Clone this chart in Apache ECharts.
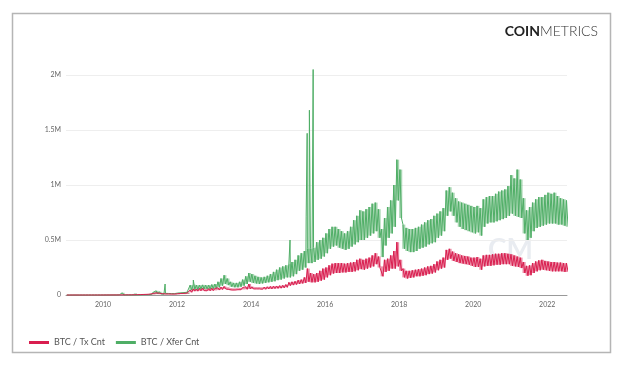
<!DOCTYPE html>
<html><head><meta charset="utf-8">
<script src="https://cdn.jsdelivr.net/npm/echarts@6/dist/echarts.min.js"></script>
<style>html,body{margin:0;padding:0;background:#fff}#c{width:624px;height:368px}</style>
</head><body><div id="c"></div><script>
// Monthly readings (thousands), starting January 2009; each month gives a low and a high value
const startYear = 2009;
const txLo = [
 0,0,0,0,0,0,0,0,0,0,0,0,
 0.2,0.2,0.2,0.3,0.3,0.3,0.4,0.5,0.5,0.6,0.8,1.0,
 1.5,2,2.5,3,5,7,6,5,5,5,5,5,
 6,8,8,10,25,35,35,38,40,38,38,40,
 42,45,50,55,50,45,45,48,48,50,52,55,
 55,55,55,52,52,55,55,58,60,62,65,70,
 85,90,95,100,105,110,120,115,115,120,130,140,
 160,180,195,200,200,205,205,210,210,215,225,235,
 230,240,250,260,280,250,170,210,220,240,240,260,
 220,160,150,155,160,170,170,175,180,190,195,205,
 225,240,250,320,330,310,300,290,285,280,275,265,
 255,255,230,260,265,265,270,275,275,280,280,280,
 265,260,255,245,200,175,180,200,215,225,230,225,
 220,215,215,215,215,210,210];
const txHi = [
 0.1,0.1,0.2,0.2,0.1,0.2,0.2,0.2,0.2,0.3,0.3,0.3,
 0.4,0.5,0.5,0.6,0.7,0.8,1.2,1.5,1.6,1.8,2.5,3.0,
 4,5,6,8,14,20,16,12,10,10,9,9,
 12,14,15,18,45,55,55,60,62,58,58,62,
 60,65,72,78,70,62,60,62,65,68,75,100,
 75,72,72,70,72,75,78,80,82,85,88,95,
 115,120,125,135,140,160,240,200,190,200,220,240,
 250,270,285,290,290,290,285,290,295,300,320,330,
 320,330,340,360,380,350,260,320,330,360,400,480,
 320,240,220,220,225,230,235,240,250,260,265,280,
 305,320,340,410,420,395,380,370,360,355,350,340,
 340,345,330,360,365,365,370,375,375,380,380,375,
 370,360,350,340,300,265,270,290,305,315,320,310,
 305,300,300,295,295,290,290];
const xferLo = [
 0,0,0,0,0,0,0,0,0,0,0,0,
 0.3,0.3,0.3,0.4,0.4,0.4,0.5,0.6,0.6,0.8,1.0,1.2,
 2,3,3,4,7,10,9,8,7,7,7,7,
 8,10,10,12,45,50,50,55,55,55,55,58,
 60,70,85,100,90,75,70,70,75,85,100,120,
 110,105,100,105,110,115,120,125,135,140,150,160,
 160,170,190,220,230,250,290,290,300,320,330,350,
 380,420,440,450,430,420,410,420,440,460,480,500,
 500,520,540,560,580,520,345,450,520,560,620,860,
 700,420,400,390,390,400,420,430,440,460,470,480,
 520,540,580,720,760,720,660,620,600,590,580,570,
 560,570,540,620,650,660,660,670,680,690,700,720,
 740,720,710,700,560,500,520,580,610,620,630,640,
 650,650,650,640,640,630,620];
const xferHi = [
 0.1,0.1,0.2,0.2,0.2,0.2,0.2,0.3,0.3,0.3,0.4,0.4,
 0.5,0.6,0.7,0.8,0.9,1.0,20,2.0,2.2,2.5,15,4.0,
 6,7,8,12,25,38,30,20,15,14,13,13,
 18,20,22,25,90,95,90,90,92,90,90,95,
 100,120,150,180,150,120,110,110,120,140,170,200,
 190,175,165,160,165,175,190,210,230,250,260,270,
 280,300,320,360,380,400,420,420,430,480,500,520,
 560,600,620,620,600,580,560,580,620,680,720,770,
 760,780,800,830,840,780,600,700,800,860,1000,1230,
 1140,640,610,600,600,610,620,640,660,680,690,720,
 740,760,790,950,980,930,880,850,840,830,820,810,
 800,810,790,870,890,900,900,920,940,950,960,990,
 1090,1060,1140,1050,880,770,800,840,870,890,890,910,
 930,920,930,900,880,870,860];
// Single-day spikes in transfer count (thousands)
const xferSpikeDates = ['2011-09-05','2012-06-10','2015-01-20','2015-06-28','2015-07-08','2015-07-30','2015-09-05'];
const xferSpikeVals = [100, 136, 500, 710, 1470, 1680, 2050];
const yearTicks = [2010, 2012, 2014, 2016, 2018, 2020, 2022];
const seriesNames = ['BTC / Tx Cnt', 'BTC / Xfer Cnt'];
const txColor = '#d91e4f', xferColor = '#4fae66';

function decYear(s){
  const d = new Date(s + 'T00:00:00Z');
  const y = d.getUTCFullYear();
  const start = Date.UTC(y,0,1), end = Date.UTC(y+1,0,1);
  return y + (d.getTime()-start)/(end-start);
}
function monthX(i, f){ return startYear + Math.floor(i/12) + ((i%12)+f)/12; }
function build(lo, hi, spD, spV){
  const pts = [];
  for (let i=0;i<lo.length;i++){
    pts.push([monthX(i,0.25), hi[i]]);
    pts.push([monthX(i,0.75), lo[i]]);
  }
  (spD||[]).forEach((d,k)=>pts.push([decYear(d), spV[k]]));
  pts.sort((a,b)=>a[0]-b[0]);
  return pts;
}
function bandData(lo, hi){ return lo.map((v,i)=>[monthX(i,0), monthX(i,1), v, hi[i]]); }
const endX = decYear('2022-07-15');

function bandSeries(id, lo, hi, color, z){
  return {name:id,type:'custom',data:bandData(lo,hi),silent:true,z:z,clip:true,
    encode:{x:[0,1],y:[2,3]},
    renderItem:function(params, api){
      const p0 = api.coord([api.value(0), api.value(3)]);
      const p1 = api.coord([api.value(1), api.value(2)]);
      return {type:'rect',shape:{x:p0[0],y:p0[1],width:p1[0]-p0[0],height:Math.max(p1[1]-p0[1],0.5)},
        style:{fill:color,opacity:0.5}};
    }};
}

const chart = echarts.init(document.getElementById('c'), null, {renderer:'canvas'});
chart.setOption({
  animation:false,
  backgroundColor:'#fff',
  textStyle:{fontFamily:'Lato'},
  grid:{left:66,right:57,top:75,bottom:73},
  graphic:[
    {type:'rect',shape:{x:12.5,y:13.5,width:598,height:339},style:{fill:'none',stroke:'#b5b5b5',lineWidth:1.5},z:0},
    {type:'text',right:26,top:24,style:{text:'{b|COIN}{l|METRICS}',rich:{
      b:{fontFamily:'Lato',fontWeight:'bold',fontSize:14,fill:'#222'},
      l:{fontFamily:'Lato',fontWeight:300,fontSize:14,fill:'#333'}}},z:5},
    {type:'text',left:488,top:236,style:{text:'CM',font:'bold 28px Lato',fill:'#e9ecf1'},z:0}
  ],
  legend:{data:seriesNames,left:24,top:333,icon:'rect',itemWidth:20,itemHeight:3,itemGap:11,
    textStyle:{fontSize:9,color:'#555',fontFamily:'Lato'}},
  xAxis:{type:'value',min:2009,max:endX,interval:1,
    axisLine:{lineStyle:{color:'#999',width:1}},axisTick:{show:false},splitLine:{show:false},
    axisLabel:{fontSize:7,color:'#666',margin:6,showMaxLabel:false,
      formatter:v=>yearTicks.indexOf(Math.round(v))>=0 && Math.abs(v-Math.round(v))<1e-6 ? String(Math.round(v)) : ''}},
  yAxis:{type:'value',min:0,max:2000,interval:500,
    axisLine:{show:false},axisTick:{show:false},
    splitLine:{lineStyle:{color:'#eeeeee',width:1}},
    axisLabel:{fontSize:7,color:'#666',margin:5,formatter:v=>v===0?'0':(v/1000)+'M'}},
  series:[
    bandSeries('xferBand', xferLo, xferHi, xferColor, 1),
    bandSeries('txBand', txLo, txHi, txColor, 2),
    {name:seriesNames[0],type:'line',data:build(txLo, txHi),showSymbol:false,symbol:'none',clip:false,z:4,
      color:txColor,lineStyle:{width:1,color:txColor}},
    {name:seriesNames[1],type:'line',data:build(xferLo, xferHi, xferSpikeDates, xferSpikeVals),showSymbol:false,symbol:'none',clip:false,z:3,
      color:xferColor,lineStyle:{width:1,color:xferColor}}
  ]
});
</script></body></html>
